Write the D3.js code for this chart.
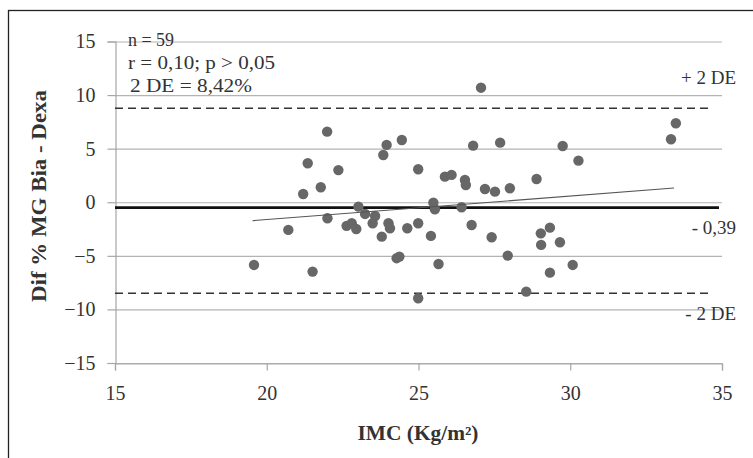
<!DOCTYPE html>
<html>
<head>
<meta charset="utf-8">
<script src="https://cdn.jsdelivr.net/npm/d3@7"></script>
<style>
  body { margin: 0; background: #fff; }
  svg { display: block; }
  text { font-family: "Liberation Serif", "Times New Roman", serif; fill: #333; }
</style>
</head>
<body>
<div id="chart"></div>
<script>
// ---- data ----
const imc = [19.58, 20.71, 21.2, 21.35, 21.51, 21.78, 21.99, 22.0, 22.36, 22.63,
             22.8, 22.95, 23.02, 23.24, 23.57, 23.49, 23.79, 23.84, 23.95, 24.01,
             24.06, 24.28, 24.37, 24.45, 24.63, 24.99, 24.99, 24.99, 25.41, 25.49,
             25.54, 25.66, 25.87, 26.09, 26.42, 26.53, 26.56, 26.75, 26.8, 27.06,
             27.19, 27.41, 27.52, 27.69, 27.94, 28.01, 28.55, 28.89, 29.03, 29.04,
             29.33, 29.33, 29.66, 29.75, 30.08, 30.27, 33.32, 33.48];
const diff = [-5.85, -2.58, 0.77, 3.64, -6.47, 1.40, 6.59, -1.49, 3.0, -2.2,
              -1.96, -2.5, -0.41, -1.09, -1.28, -1.96, -3.21, 4.41, 5.35, -1.96,
              -2.43, -5.22, -5.07, 5.81, -2.43, 3.08, -1.96, -8.96, -3.14, -0.04,
              -0.65, -5.76, 2.39, 2.55, -0.47, 2.08, 1.61, -2.12, 5.28, 10.69,
              1.24, -3.27, 0.99, 5.56, -4.98, 1.31, -8.34, 2.17, -2.9, -3.98,
              -2.37, -6.57, -3.73, 5.25, -5.85, 3.88, 5.88, 7.37];
const xTicks = [15, 20, 25, 30, 35];
const yTicks = [-15, -10, -5, 0, 5, 10, 15];
const meanLine = -0.5;          // drawn position of the mean difference
const upperLimit = 8.77;        // + 2 DE dashed line
const lowerLimit = -8.49;       // - 2 DE dashed line
const trendX = [19.53, 33.42];  // trend line end points
const trendY = [-1.72, 1.33];
const annotations = ["n = 59", "r = 0,10; p > 0,05", "2 DE = 8,42%"];
const rightLabels = [
  { text: "+ 2 DE", value: 11.6 },
  { text: "- 0,39", value: -2.4 },
  { text: "- 2 DE", value: -10.4 }
];
const xTitle = "IMC (Kg/m²)";
const yTitle = "Dif % MG Bia - Dexa";

// ---- drawing ----
const W = 753, H = 458;
const svg = d3.select("#chart").append("svg").attr("width", W).attr("height", H);

// outer frame (left and top visible)
svg.append("rect").attr("x", 8.5).attr("y", 10.5).attr("width", 760).attr("height", 460)
  .attr("fill", "none").attr("stroke", "#222").attr("stroke-width", 1.3);

const x = d3.scaleLinear().domain([15, 35]).range([115, 722]);
const y = d3.scaleLinear().domain([-15, 15]).range([363, 41.5]);

// gridlines
svg.append("g").selectAll("line").data(yTicks).join("line")
  .attr("x1", x(15)).attr("x2", x(35))
  .attr("y1", d => y(d) + 0.5).attr("y2", d => y(d) + 0.5)
  .attr("stroke", "#b3b3b3").attr("stroke-width", 1.2);

// y axis
const yAxis = svg.append("g").attr("transform", `translate(${x(15) + 0.5},0)`)
  .call(d3.axisLeft(y).tickValues(yTicks).tickSize(8).tickPadding(12).tickFormat(d3.format("d")));
yAxis.attr("font-family", null).attr("font-size", null);
yAxis.select(".domain").attr("stroke", "#a6a6a6").attr("stroke-width", 1.2);
yAxis.selectAll(".tick line").attr("stroke", "#a6a6a6").attr("stroke-width", 1.2);
yAxis.selectAll(".tick text").attr("font-size", 20).attr("fill", "#333");

// x axis
const xAxis = svg.append("g").attr("transform", `translate(0,${y(-15) + 0.5})`)
  .call(d3.axisBottom(x).tickValues(xTicks).tickSize(7).tickPadding(15).tickFormat(d3.format("d")));
xAxis.attr("font-family", null).attr("font-size", null);
xAxis.select(".domain").attr("stroke", "#a6a6a6").attr("stroke-width", 1.2);
xAxis.selectAll(".tick line").attr("stroke", "#a6a6a6").attr("stroke-width", 1.2);
xAxis.selectAll(".tick text").attr("font-size", 20).attr("fill", "#333");

// limits
[upperLimit, lowerLimit].forEach(v => {
  svg.append("line").attr("x1", x(15)).attr("x2", x(34.6))
    .attr("y1", y(v)).attr("y2", y(v))
    .attr("stroke", "#333").attr("stroke-width", 1.6).attr("stroke-dasharray", "8,5");
});

// mean line
svg.append("line").attr("x1", x(15)).attr("x2", x(34.9))
  .attr("y1", y(meanLine)).attr("y2", y(meanLine))
  .attr("stroke", "#111").attr("stroke-width", 2.8);

// points
svg.append("g").selectAll("circle").data(imc.map((v, i) => [v, diff[i]])).join("circle")
  .attr("cx", d => x(d[0])).attr("cy", d => y(d[1])).attr("r", 5.2)
  .attr("fill", "#676767");

// trend line
svg.append("line").attr("x1", x(trendX[0])).attr("x2", x(trendX[1]))
  .attr("y1", y(trendY[0])).attr("y2", y(trendY[1]))
  .attr("stroke", "#555").attr("stroke-width", 1.1);

// annotations
const annWidths = [46, 147, 122];
svg.append("g").selectAll("text").data(annotations).join("text")
  .attr("x", (d, i) => i === 2 ? 130 : 128)
  .attr("y", (d, i) => 46 + i * 23)
  .attr("font-size", 19)
  .attr("textLength", (d, i) => annWidths[i]).attr("lengthAdjust", "spacingAndGlyphs")
  .text(d => d);

// right labels
svg.append("g").selectAll("text").data(rightLabels).join("text")
  .attr("x", 736).attr("y", d => y(d.value) + 6)
  .attr("text-anchor", "end").attr("font-size", 19).text(d => d.text);

// axis titles
svg.append("text").attr("x", 418).attr("y", 440).attr("text-anchor", "middle")
  .attr("font-size", 20).attr("font-weight", "bold")
  .attr("textLength", 121).attr("lengthAdjust", "spacingAndGlyphs").text(xTitle);
svg.append("text").attr("transform", "translate(46,196) rotate(-90)")
  .attr("text-anchor", "middle").attr("font-size", 20).attr("font-weight", "bold")
  .attr("textLength", 212).attr("lengthAdjust", "spacingAndGlyphs").text(yTitle);
</script>
</body>
</html>
